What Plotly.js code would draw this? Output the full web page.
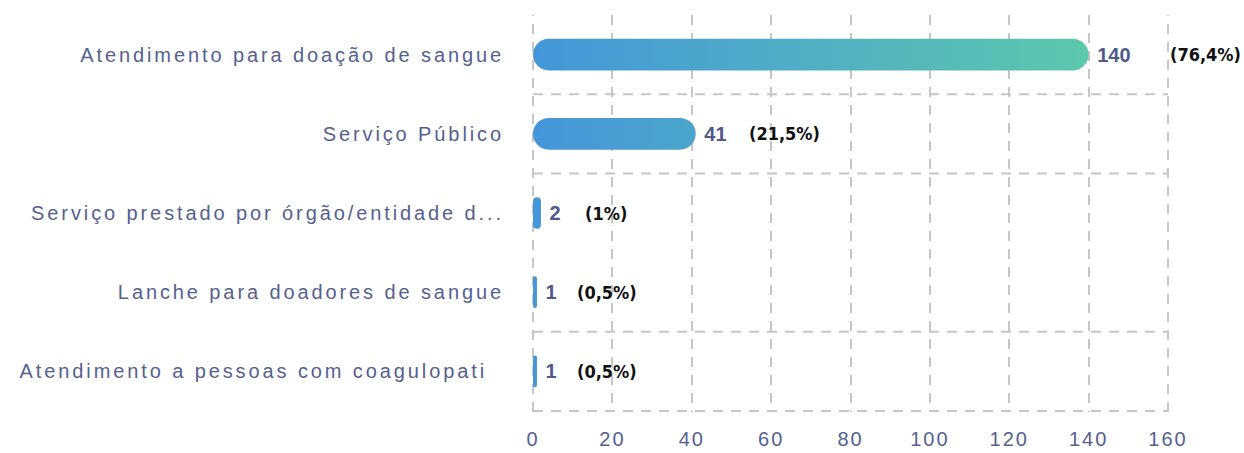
<!DOCTYPE html>
<html><head><meta charset="utf-8">
<script src="https://cdn.plot.ly/plotly-3.0.1.min.js"></script>
<style>
html,body{margin:0;padding:0;background:#fff;}
#chart{width:1244px;height:453px;}
.xtick text {letter-spacing:2px;}
.ytick text {letter-spacing:2.9px;}
</style></head><body>
<div id="chart"></div>
<script>
const categories = [
  "Atendimento para doação de sangue",
  "Serviço Público",
  "Serviço prestado por órgão/entidade d...",
  "Lanche para doadores de sangue",
  "Atendimento a pessoas com coagulopati\u00a0\u00a0"
];
const counts = [140, 41, 2, 1, 1];
const percentLabels = ["(76,4%)", "(21,5%)", "(1%)", "(0,5%)", "(0,5%)"];
const xTickValues = [0, 20, 40, 60, 80, 100, 120, 140, 160];

const pctShift = [79, 51, 42, 38, 38];
const slate = "#56608f";

const trace = {
  type: "bar",
  orientation: "h",
  y: categories,
  x: counts,
  marker: {color: "#4a9fd2"},
  texttemplate: " %{x}",
  textposition: "outside",
  cliponaxis: false,
  textfont: {family: "Liberation Sans, Arial, sans-serif", size: 20, color: "#4f5a8a", weight: "bold"},
  hoverinfo: "none"
};

const annotations = categories.map((c, i) => ({
  x: counts[i], y: c, xref: "x", yref: "y",
  text: "<b>" + percentLabels[i] + "</b>",
  showarrow: false, xanchor: "left", yanchor: "middle",
  xshift: pctShift[i],
  font: {family: "Liberation Sans Narrow, DejaVu Sans Condensed, sans-serif", size: 18, color: "#111111"}
}));

const dashLine = {color: "#c6c6c6", width: 2, dash: "10px,8px"};
const shapes = [0.5, 1.5, 3.5, 4.5].map(v => ({
  type: "line", xref: "paper", yref: "y", x0: 0, x1: 1, y0: v, y1: v,
  line: dashLine, layer: "below"
})).concat([0, 1].map(v => ({
  type: "line", xref: "paper", yref: "paper", x0: v, x1: v, y0: 0, y1: 1,
  line: dashLine, layer: "below"
})));

const layout = {
  width: 1244, height: 453,
  margin: {l: 533, r: 76, t: 15, b: 41},
  paper_bgcolor: "#ffffff", plot_bgcolor: "#ffffff",
  bargap: 0.6,
  showlegend: false,
  xaxis: {
    range: [0, 160], tickvals: xTickValues, ticktext: xTickValues.map(String),
    showgrid: true, gridcolor: "#c6c6c6", gridwidth: 2, griddash: "10px,8px",
    zeroline: false, showline: false, ticks: "", ticklabelstandoff: 13,
    tickfont: {family: "Liberation Sans, Arial, sans-serif", size: 20, color: slate},
    fixedrange: true
  },
  yaxis: {
    type: "category", autorange: "reversed",
    showgrid: false, zeroline: false, showline: false, ticks: "",
    ticklabelstandoff: 28,
    tickfont: {family: "Liberation Sans, Arial, sans-serif", size: 20, color: slate},
    fixedrange: true
  },
  shapes: shapes,
  annotations: annotations
};

Plotly.newPlot("chart", [trace], layout, {displayModeBar: false, staticPlot: true}).then(gd => {
  const NS = "http://www.w3.org/2000/svg";
  const svg = gd.querySelector(".main-svg");
  let defs = svg.querySelector("defs");
  if (!defs) { defs = document.createElementNS(NS, "defs"); svg.insertBefore(defs, svg.firstChild); }
  const xa = gd._fullLayout.xaxis;
  const lg = document.createElementNS(NS, "linearGradient");
  lg.setAttribute("id", "barGrad");
  lg.setAttribute("gradientUnits", "userSpaceOnUse");
  lg.setAttribute("x1", xa.l2p(0));
  lg.setAttribute("x2", xa.l2p(Math.max(...counts)));
  lg.setAttribute("y1", 0); lg.setAttribute("y2", 0);
  [["0", "#4496d9"], ["1", "#5cc8ac"]].forEach(([o, c]) => {
    const s = document.createElementNS(NS, "stop");
    s.setAttribute("offset", o); s.setAttribute("stop-color", c);
    lg.appendChild(s);
  });
  defs.appendChild(lg);
  gd.querySelectorAll(".bars .point path").forEach(p => {
    const b = p.getBBox();
    const r = Math.min(b.height / 2, b.width / 2);
    const x0 = b.x, y0 = b.y, x1 = b.x + b.width, y1 = b.y + b.height;
    p.setAttribute("d",
      `M${x0 + r},${y0}H${x1 - r}A${r},${r} 0 0 1 ${x1},${y0 + r}V${y1 - r}` +
      `A${r},${r} 0 0 1 ${x1 - r},${y1}H${x0 + r}A${r},${r} 0 0 1 ${x0},${y1 - r}` +
      `V${y0 + r}A${r},${r} 0 0 1 ${x0 + r},${y0}Z`);
    p.style.fill = "url(#barGrad)";
  });
});
</script>
</body></html>
